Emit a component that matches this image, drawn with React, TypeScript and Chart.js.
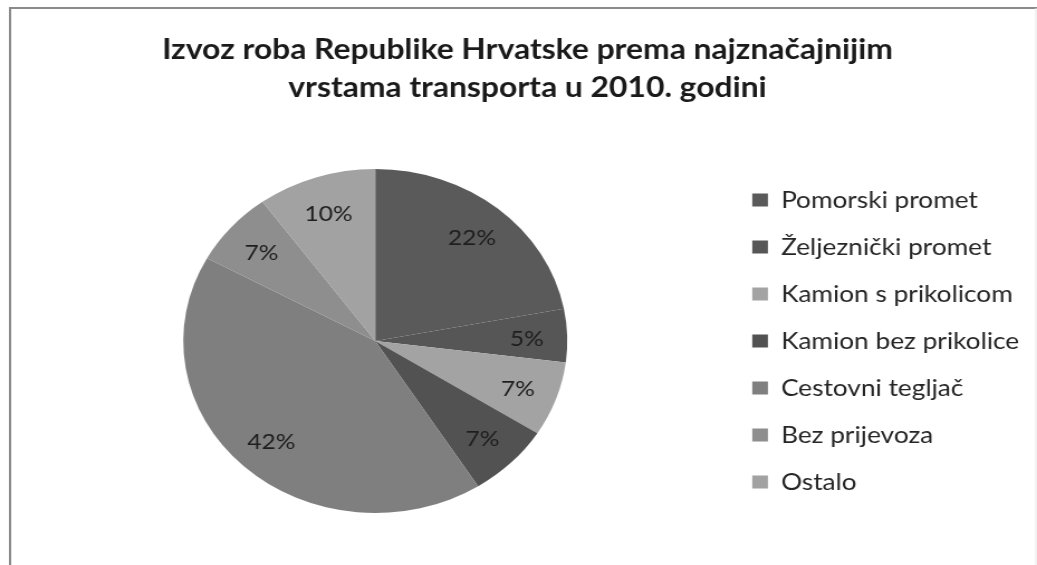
import React, { useEffect, useRef } from "react";
import { Chart, registerables } from "chart.js";

Chart.register(...registerables);

const titleLines = [
  "Izvoz roba Republike Hrvatske prema najznačajnijim",
  "vrstama transporta u 2010. godini",
];
const categories = [
  "Pomorski promet",
  "Željeznički promet",
  "Kamion s prikolicom",
  "Kamion bez prikolice",
  "Cestovni tegljač",
  "Bez prijevoza",
  "Ostalo",
];
const shares = [22, 5, 7, 7, 42, 7, 10];
const sliceColors = ["#5a5a5a", "#565656", "#a3a3a3", "#525252", "#7f7f7f", "#8e8e8e", "#a2a2a2"];

const STRETCH = 1.1163; // horizontal stretch of the original picture
const W = 929;
const H = 565;

const framePlugin = {
  id: "frame",
  beforeDraw(chart: any) {
    const ctx = chart.ctx;
    ctx.save();
    ctx.fillStyle = "#ffffff";
    ctx.fillRect(0, 0, chart.width, chart.height);
    ctx.strokeStyle = "#8a8a8a";
    ctx.lineWidth = 2;
    ctx.beginPath();
    ctx.moveTo(9, H + 2);
    ctx.lineTo(9, 8);
    ctx.lineTo(W + 2, 8);
    ctx.stroke();
    ctx.strokeStyle = "#e6e6e6";
    ctx.lineWidth = 1;
    ctx.beginPath();
    ctx.moveTo(928, 8);
    ctx.lineTo(928, H);
    ctx.stroke();
    ctx.restore();
  },
};

const labelPlugin = {
  id: "sliceLabels",
  afterDatasetsDraw(chart: any) {
    const ctx = chart.ctx;
    const meta = chart.getDatasetMeta(0);
    ctx.save();
    ctx.font = "22px Lato, 'Open Sans', sans-serif";
    ctx.fillStyle = "#1e1e1e";
    ctx.textAlign = "center";
    ctx.textBaseline = "middle";
    meta.data.forEach((arc: any, i: number) => {
      const p = arc.getProps(["x", "y", "startAngle", "endAngle", "outerRadius"], true);
      const mid = (p.startAngle + p.endAngle) / 2;
      const r = p.outerRadius * 0.79;
      ctx.fillText(shares[i] + "%", p.x + Math.cos(mid) * r, p.y + Math.sin(mid) * r + 2);
    });
    ctx.restore();
  },
};

export default function App() {
  const ref = useRef<HTMLCanvasElement | null>(null);
  useEffect(() => {
    document.body.style.margin = "0";
    document.body.style.background = "#ffffff";
    if (!ref.current) return;
    const chart = new Chart(ref.current, {
      type: "pie",
      data: {
        labels: categories,
        datasets: [
          {
            data: shares,
            backgroundColor: sliceColors,
            borderWidth: 0,
            radius: 172,
          },
        ],
      },
      options: {
        responsive: false,
        animation: false,
        events: [],
        layout: { padding: { left: 22, right: 6, top: 0, bottom: 23 } },
        plugins: {
          title: {
            display: true,
            text: titleLines,
            color: "#1a1a1a",
            font: { family: "Lato, 'Open Sans', sans-serif", size: 28.5, weight: "bold", lineHeight: 1.333 },
            padding: { top: 31, bottom: 33 },
          },
          legend: {
            display: true,
            position: "right",
            fullSize: false,
            labels: {
              boxWidth: 14,
              boxHeight: 13,
              padding: 23.5,
              color: "#262626",
              font: { family: "Lato, 'Open Sans', sans-serif", size: 23.5 },
            },
          },
          tooltip: { enabled: false },
        },
      },
      plugins: [framePlugin, labelPlugin],
    });
    return () => chart.destroy();
  }, []);
  return (
    <div style={{ width: 1037, height: 565, overflow: "hidden", background: "#fff" }}>
      <canvas
        ref={ref}
        width={W}
        height={H}
        style={{
          display: "block",
          width: W + "px",
          height: H + "px",
          transform: `scaleX(${STRETCH})`,
          transformOrigin: "0 0",
        }}
      />
    </div>
  );
}
